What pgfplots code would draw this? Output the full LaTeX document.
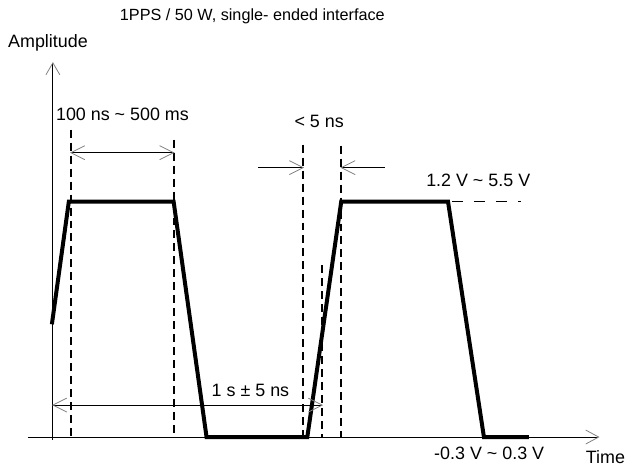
\documentclass[border=0pt]{standalone}
\usepackage{pgfplots}
\pgfplotsset{compat=1.18}
\usepackage{fontspec}
\setmainfont{Liberation Sans}
\definecolor{chev}{gray}{0.5}
\begin{document}
\begin{tikzpicture}
\begin{axis}[
  scale only axis, width=625bp, height=468bp,
  xmin=0, xmax=625, ymin=0, ymax=468, y dir=reverse,
  hide axis, clip=false,
  every axis plot/.append style={mark=none},
]
\path (axis cs:0,0) rectangle (axis cs:625,468);
% axes
\addplot[black, line width=1bp] coordinates {(53,441) (53,64)};
\addplot[chev, line width=0.8bp] coordinates {(46,75) (53,63) (60,75)};
\addplot[black, line width=1bp] coordinates {(28,438) (599,438)};
\addplot[chev, line width=0.8bp] coordinates {(587,431) (600,438) (587,445)};
% dashed verticals
\addplot[black, line width=2bp, dash pattern=on 8bp off 5bp] coordinates {(71,130) (71,438)};
\addplot[black, line width=2bp, dash pattern=on 8bp off 5bp] coordinates {(174,140) (174,438)};
\addplot[black, line width=2bp, dash pattern=on 8bp off 5bp] coordinates {(304,145) (304,438)};
\addplot[black, line width=2bp, dash pattern=on 8bp off 5bp] coordinates {(342,146) (342,438)};
\addplot[black, line width=2bp, dash pattern=on 8bp off 5bp] coordinates {(323,266) (323,438)};
% dashed horizontal level
\addplot[black, line width=0.8bp, dash pattern=on 11bp off 11bp] coordinates {(453,202) (522,202)};
% waveform
\addplot[black, line width=4bp] coordinates {
 (52,325) (69,202) (174,202) (207,438) (308,438) (342,202) (449,202) (485,438) (530,438)};
% 100 ns arrow
\addplot[black, line width=0.8bp] coordinates {(71,153) (174,153)};
\addplot[chev, line width=0.8bp] coordinates {(85,146) (71,153) (85,160)};
\addplot[chev, line width=0.8bp] coordinates {(160,146) (174,153) (160,160)};
% < 5 ns arrows
\addplot[black, line width=0.8bp] coordinates {(259,168) (304,168)};
\addplot[chev, line width=0.8bp] coordinates {(290,161) (304,168) (290,175)};
\addplot[black, line width=0.8bp] coordinates {(342,168) (386,168)};
\addplot[chev, line width=0.8bp] coordinates {(356,161) (342,168) (356,175)};
% 1 s arrow
\addplot[black, line width=0.8bp] coordinates {(53,406) (323,406)};
\addplot[chev, line width=0.8bp] coordinates {(67,399) (53,406) (67,413)};
\addplot[chev, line width=0.8bp] coordinates {(309,399) (323,406) (309,413)};
% texts
\begin{scope}[every node/.style={anchor=base west, inner sep=0pt, font=\fontsize{18}{21}\selectfont}]
\node[font=\fontsize{16.3}{19}\selectfont] at (axis cs:120,21) {1PPS / 50 W, single- ended interface};
\node at (axis cs:8,48) {Amplitude};
\node at (axis cs:56,121) {100 ns \char`~\ 500 ms};
\node at (axis cs:295,128) {< 5 ns};
\node at (axis cs:427,187) {1.2 V \char`~\ 5.5 V};
\node at (axis cs:212,397) {1 s ± 5 ns};
\node at (axis cs:435,461) {-0.3 V \char`~\ 0.3 V};
\node at (axis cs:587,465) {Time};
\end{scope}
\end{axis}
\end{tikzpicture}
\end{document}
